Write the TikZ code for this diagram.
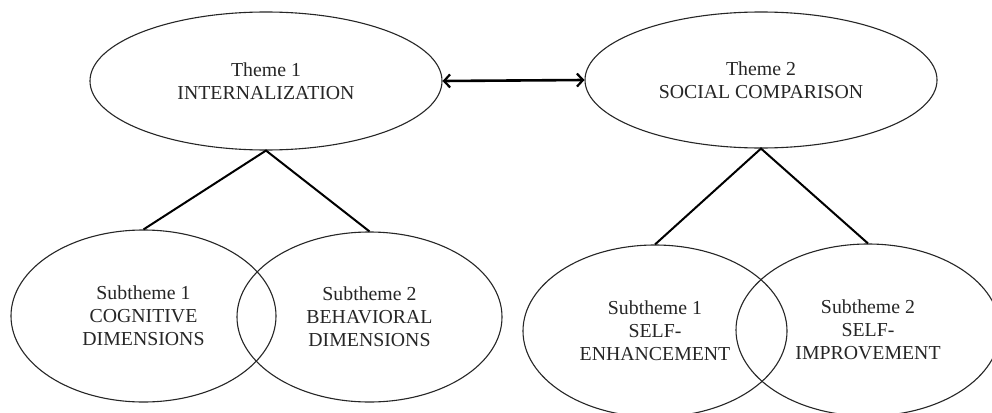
\documentclass[tikz,border=0pt]{standalone}
\usepackage{fontspec}
\setmainfont{Liberation Serif}
\usetikzlibrary{shapes.geometric,arrows.meta}
\tikzset{
  oval/.style={ellipse, draw=black!85, line width=1.1pt, inner sep=0pt, align=center,
    font=\fontsize{19.8}{22.8}\selectfont, text=black!85},
  link/.style={draw=black, line width=2pt},
  bothway/.style={draw=black, line width=2.6pt, {Straight Barb[length=6pt,width=13pt,line width=2.2pt]}-{Straight Barb[length=6pt,width=13pt,line width=2.2pt]}}
}
\begin{document}
\begin{tikzpicture}[x=1pt,y=-1pt]
\clip (0,0) rectangle (992,412);
\fill[white] (0,0) rectangle (992,412);
\node[oval, minimum width=352pt, minimum height=138pt] (t1) at (266,81) {Theme 1\\INTERNALIZATION};
\node[oval, minimum width=352pt, minimum height=136pt] (t2) at (761,80) {Theme 2\\SOCIAL COMPARISON};
\node[oval, minimum width=265pt, minimum height=172pt] (s1) at (143.5,316) {Subtheme 1\\COGNITIVE\\DIMENSIONS};
\node[oval, minimum width=265pt, minimum height=170pt] (s2) at (369.5,317) {Subtheme 2\\BEHAVIORAL\\DIMENSIONS};
\node[oval, minimum width=264pt, minimum height=172pt] (r1) at (655,331) {Subtheme 1\\SELF-\\ENHANCEMENT};
\node[oval, minimum width=264pt, minimum height=172pt] (r2) at (868,330) {Subtheme 2\\SELF-\\IMPROVEMENT};
\draw[bothway] (t1.east) -- (t2.west);
\draw[link] (s1.north) -- (t1.south) -- (s2.north);
\draw[link] (r1.north) -- (t2.south) -- (r2.north);
\end{tikzpicture}
\end{document}
